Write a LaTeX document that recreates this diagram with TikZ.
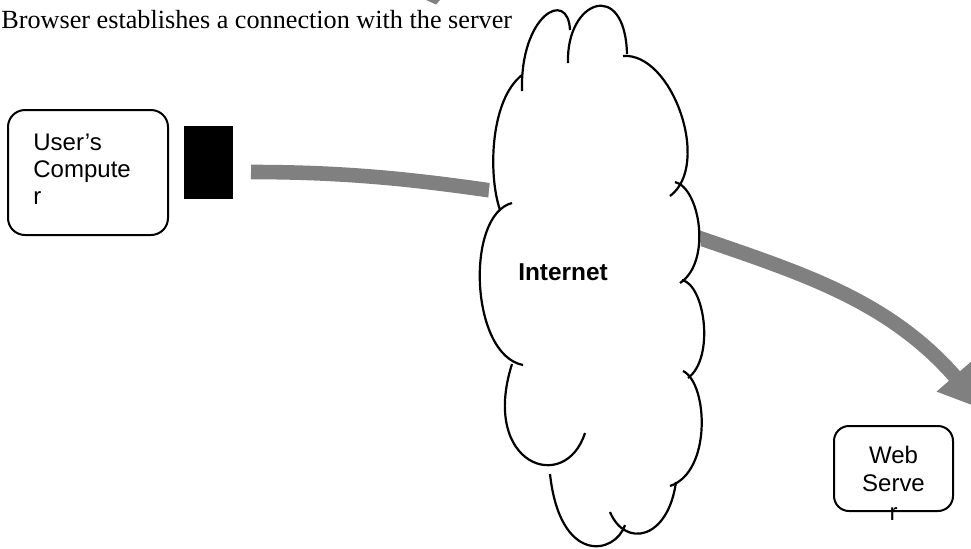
\documentclass[tikz,border=0pt]{standalone}
\usepackage{fontspec}
\setmainfont{Liberation Serif}
\setsansfont{Liberation Sans}
\usetikzlibrary{arrows.meta}

\tikzset{
  sysbox/.style={draw,line width=1pt,inner sep=0pt},
  boxtext/.style={font=\sffamily\fontsize{12}{13.5}\selectfont,inner sep=0pt},
  lobe/.style={line width=1.1pt},
  pipe/.style={draw=gray,line width=7.3pt},
}

\begin{document}
\begin{tikzpicture}[x=0.5pt,y=-0.5pt]
\useasboundingbox (0,0) rectangle (971,548);
\clip (0,0) rectangle (971,548);

\node[anchor=base west,inner sep=0pt,font=\fontsize{13.1}{15}\selectfont] (caption) at (1,28) {Browser establishes a connection with the server};
\fill[gray] (426,0) -- (436,4.5) -- (440,0) -- cycle;

\node[sysbox,rounded corners=8.5pt,minimum width=80pt,minimum height=62.5pt] (ucomp) at (88,172.5) {};
\node[boxtext,align=left,anchor=base west] (ucomptext) at (33,204) {User’s\\Compute\\r};
\node[fill=black,inner sep=0pt,minimum width=24.5pt,minimum height=36.5pt] (plug) at (208.5,162.5) {};

\node[sysbox,rounded corners=7.5pt,minimum width=59.5pt,minimum height=42.5pt] (wserver) at (893.5,468.5) {};
\node[boxtext,align=center,anchor=base,font=\sffamily\fontsize{12}{14.2}\selectfont] (wservertext) at (893.5,520) {Web\\Serve\\r};

% gray pipes, the cloud covers their ends
\coordinate (barstart) at (251,172);
\coordinate (cloudwest) at (508,193);
\coordinate (cloudeast) at (685,233);
\coordinate (arrtip) at (984,410);
\draw[pipe] (barstart) .. controls (350,172) and (420,180) .. (cloudwest);
\draw[pipe,-{Triangle[width=22pt,length=22.5pt]}] (cloudeast) .. controls (794,271) and (886,297) .. (arrtip);

% cloud
\fill[white] (522,75) -- (570,30) -- (595,10) -- (627,54) -- (683,120) -- (700,227) -- (703,325)
  -- (703,428) -- (670,486) -- (640,533) -- (597,543) -- (550,474) -- (507,426) -- (480,284)
  -- (494,139) -- cycle;
\foreach \sx/\sy/\ax/\ay/\bx/\by/\ex/\ey in {
  522/91/520/15/568/-12/570/30, 568/63/566/0/625/-22/627/54,
  623/56/672/52/712/165/670/196, 675/182/700/188/712/262/680/283,
  682/280/705/285/715/358/688/378, 683/371/708/383/712/472/670/486,
  676/482/668/540/625/548/610/512, 625/525/615/555/560/565/550/474,
  585/433/565/495/480/465/512/364, 523/365/470/355/465/215/512/203,
  500/210/488/175/490/100/522/75}
  \fill[white] (\sx,\sy) .. controls (\ax,\ay) and (\bx,\by) .. (\ex,\ey) -- cycle;
\foreach \sx/\sy/\ax/\ay/\bx/\by/\ex/\ey in {
  522/91/520/15/568/-12/570/30, 568/63/566/0/625/-22/627/54,
  623/56/672/52/712/165/670/196, 675/182/700/188/712/262/680/283,
  682/280/705/285/715/358/688/378, 683/371/708/383/712/472/670/486,
  676/482/668/540/625/548/610/512, 625/525/615/555/560/565/550/474,
  585/433/565/495/480/465/512/364, 523/365/470/355/465/215/512/203,
  500/210/488/175/490/100/522/75}
  \draw[lobe] (\sx,\sy) .. controls (\ax,\ay) and (\bx,\by) .. (\ex,\ey);
\node[font=\sffamily\bfseries\fontsize{12.2}{14}\selectfont,anchor=base,inner sep=0pt] (inet) at (563,280) {Internet};
\end{tikzpicture}
\end{document}
